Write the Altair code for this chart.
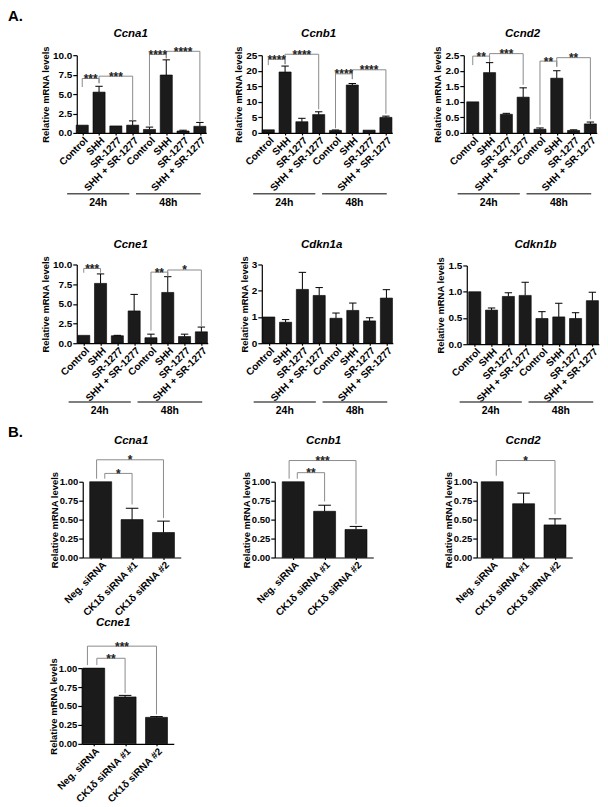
import altair as alt
import pandas as pd

FONT = "Liberation Sans"

# ---------------- data ----------------
a_cats = ["Control", "SHH", "SR-1277", "SHH + SR-1277", "Control", "SHH", "SR-1277", "SHH + SR-1277"]
b_cats = ["Neg. siRNA", "CK1\u03b4 siRNA #1", "CK1\u03b4 siRNA #2"]
hour_labels = ["24h", "48h"]
hour_start = [-0.9, 3.2]
hour_end = [2.8, 7.05]

ccna1_mean = [1.0, 5.25, 0.9, 1.0, 0.45, 7.45, 0.25, 0.85]
ccna1_sem = [0, 0.75, 0, 0.55, 0.3, 1.95, 0.1, 0.5]
ccnb1_mean = [1.0, 19.6, 3.6, 5.9, 0.8, 15.4, 0.9, 5.0]
ccnb1_sem = [0, 1.9, 1.1, 0.9, 0.15, 0.5, 0, 0.4]
ccnd2_mean = [1.0, 1.94, 0.6, 1.15, 0.12, 1.76, 0.08, 0.29]
ccnd2_sem = [0, 0.32, 0.03, 0.3, 0.04, 0.24, 0.02, 0.06]
ccne1_mean = [1.0, 7.6, 0.95, 4.1, 0.7, 6.45, 0.85, 1.45]
ccne1_sem = [0, 1.2, 0.05, 2.1, 0.45, 2.0, 0.3, 0.6]
cdkn1a_mean = [1.0, 0.8, 2.05, 1.82, 0.95, 1.25, 0.85, 1.72]
cdkn1a_sem = [0, 0.1, 0.65, 0.3, 0.2, 0.28, 0.12, 0.32]
cdkn1b_mean = [1.0, 0.65, 0.91, 0.93, 0.49, 0.52, 0.49, 0.83]
cdkn1b_sem = [0, 0.04, 0.07, 0.25, 0.13, 0.26, 0.11, 0.16]

b_ccna1_mean = [1.0, 0.5, 0.33]
b_ccna1_sem = [0, 0.15, 0.15]
b_ccnb1_mean = [1.0, 0.61, 0.37]
b_ccnb1_sem = [0, 0.08, 0.04]
b_ccnd2_mean = [1.0, 0.71, 0.43]
b_ccnd2_sem = [0, 0.14, 0.08]
b_ccne1_mean = [1.0, 0.62, 0.35]
b_ccne1_sem = [0, 0.02, 0.01]

# brackets: (x from, x to, top, left leg end, right leg end, stars)
ccna1_br = [(0, 1, 7.0, 5.9, 6.4, "***"), (1, 3, 7.3, 6.4, 1.6, "***"),
            (4, 5, 10.1, 0.95, 9.6, "****"), (5, 7, 10.5, 9.6, 1.5, "****")]
ccnb1_br = [(0, 1, 23.7, 21.8, 22.1, "****"), (1, 3, 25.3, 22.1, 7.6, "****"),
            (4, 5, 19.0, 1.5, 17.3, "****"), (5, 7, 20.3, 17.3, 6.2, "****")]
ccnd2_br = [(0, 1, 2.47, 2.18, 2.29, "**"), (1, 3, 2.55, 2.29, 1.55, "***"),
            (4, 5, 2.31, 0.26, 2.13, "**"), (5, 7, 2.42, 2.13, 0.44, "**")]
ccne1_br = [(0, 1, 9.5, 8.95, 8.95, "***"), (4, 5, 9.03, 1.6, 8.5, "**"),
            (5, 7, 9.3, 8.5, 2.1, "*")]
b_ccna1_br = [(0.13, 1, 1.11, 1.04, 0.70, "*"), (-0.13, 2, 1.29, 1.04, 0.52, "*")]
b_ccnb1_br = [(0.13, 1, 1.12, 1.04, 0.74, "**"), (-0.13, 2, 1.28, 1.04, 0.44, "***")]
b_ccnd2_br = [(0.13, 2, 1.28, 1.08, 0.57, "*")]
b_ccne1_br = [(0.10, 1, 1.13, 1.04, 0.67, "**"), (-0.2, 2, 1.29, 1.04, 0.39, "***")]

# ---------------- layout (page pixels) ----------------
W = 592 / 3
H = 195


def geo(cell, axis_x, first_x, top, bottom, step, right_pad, title_xy, line=None):
    return dict(cell=cell, axis_x=axis_x, first_x=first_x, top=top, bottom=bottom,
                step=step, right_pad=right_pad, title=title_xy, line=line)


def panel(title, cats, mean, sem, brackets, g, ydom, yticks, yfmt, half, cap,
          groups=False, letter=None, ylab=10, tpad=2):
    row, col = g["cell"]
    ox = 8 + col * W
    oy = 8 + row * H
    step = g["step"]
    x0 = g["axis_x"] - ox
    d0 = -(g["first_x"] - g["axis_x"]) / step
    n = len(cats)
    d1 = n - 1 + g["right_pad"]
    xr = [x0, x0 + (d1 - d0) * step]
    yt = g["top"] - oy
    yb = g["bottom"] - oy
    xs = alt.Scale(domain=[d0, d1], range=xr, nice=False, zero=False)
    ys = alt.Scale(domain=ydom, range=[yb, yt], nice=False, zero=False)

    df = pd.DataFrame({"pos": list(range(n)), "mean": mean, "sem": sem})
    df["lo"] = df["pos"] - half
    df["hi"] = df["pos"] + half
    df["base"] = 0.0
    df["up"] = df["mean"] + df["sem"]
    df["clo"] = df["pos"] - cap
    df["chi"] = df["pos"] + cap
    err = df[df["sem"] > 0]

    label_expr = "[" + ",".join("'%s'" % c for c in cats) + "][datum.value]"
    xaxis = alt.Axis(values=list(range(n)), labelExpr=label_expr, labelAngle=315,
                     title=None, tickSize=2, labelPadding=0, offset=-(H - yb),
                     labelFontSize=10, labelFlush=False, labelOverlap=False)
    yaxis = alt.Axis(values=yticks, format=yfmt, title="Relative mRNA levels",
                     offset=-x0, tickSize=4, labelPadding=1, titlePadding=tpad,
                     labelFontSize=ylab, labelFlush=False, labelOverlap=False)

    def X(f):
        return alt.X(f, scale=xs, axis=xaxis)

    def Y(f):
        return alt.Y(f, scale=ys, axis=yaxis)

    bars = alt.Chart(df).mark_bar(color="#1b1b1b", stroke="black", strokeWidth=0.6).encode(
        x=X("lo:Q"), x2="hi:Q", y=Y("base:Q"), y2="mean:Q")
    stems = alt.Chart(err).mark_rule(color="black", strokeWidth=1).encode(
        x=X("pos:Q"), y=Y("mean:Q"), y2="up:Q")
    caps = alt.Chart(err).mark_rule(color="black", strokeWidth=1).encode(
        x=X("clo:Q"), x2="chi:Q", y=Y("up:Q"))

    segs = []
    stars = []
    for (a, b, top, yl, yr, lab) in brackets:
        segs.append(dict(xa=a, xb=a, ya=yl, yb=top))
        segs.append(dict(xa=a, xb=b, ya=top, yb=top))
        segs.append(dict(xa=b, xb=b, ya=top, yb=yr))
        stars.append(dict(xm=(a + b) / 2, top=top, lab=lab))
    layers = [bars, stems, caps]
    if segs:
        layers.append(alt.Chart(pd.DataFrame(segs)).mark_rule(color="#8c8c8c", strokeWidth=1).encode(
            x=X("xa:Q"), x2="xb:Q", y=Y("ya:Q"), y2="yb:Q"))
        layers.append(alt.Chart(pd.DataFrame(stars)).mark_text(
            font=FONT, fontSize=12, fontWeight="bold", color="#222", baseline="alphabetic", dy=4.5).encode(
            x=X("xm:Q"), y=Y("top:Q"), text="lab:N"))
    if groups:
        gdf = pd.DataFrame({"g0": hour_start, "g1": hour_end, "lab": hour_labels})
        gdf["gc"] = (gdf["g0"] + gdf["g1"]) / 2
        ly = g["line"] - oy
        layers.append(alt.Chart(gdf).mark_rule(color="#555", strokeWidth=1.6).encode(
            x=X("g0:Q"), x2="g1:Q", y=alt.value(ly)))
        layers.append(alt.Chart(gdf).mark_text(
            font=FONT, fontSize=10.5, fontWeight="bold", color="black", baseline="alphabetic").encode(
            x=X("gc:Q"), y=alt.value(ly + 12), text="lab:N"))
    tx, ty = g["title"]
    layers.append(alt.Chart(pd.DataFrame({"t": [title]})).mark_text(
        font=FONT, fontSize=11.5, fontWeight="bold", fontStyle="italic", color="black",
        baseline="alphabetic").encode(x=alt.value(tx - ox), y=alt.value(ty - oy), text="t:N"))
    if letter:
        lab, ly = letter
        layers.append(alt.Chart(pd.DataFrame({"t": [lab]})).mark_text(
            font=FONT, fontSize=15, fontWeight="bold", color="black", align="left",
            baseline="alphabetic").encode(x=alt.value(0), y=alt.value(ly - oy), text="t:N"))
    return alt.layer(*layers).properties(width=W, height=H)


SA = 16.86
SB = 31.5
a_ticks10 = [0, 2.5, 5, 7.5, 10]
b_ticks = [0, 0.25, 0.5, 0.75, 1.0]
BK = dict(ylab=9.5, tpad=0)

panels = [
    panel("Ccna1", a_cats, ccna1_mean, ccna1_sem, ccna1_br,
          geo((0, 0), 77, 82.5, 54, 132, SA, 0.38, (131, 36), 193),
          [0, 10], a_ticks10, ".1f", 0.36, 0.22, groups=True, letter=("A.", 20)),
    panel("Ccnb1", a_cats, ccnb1_mean, ccnb1_sem, ccnb1_br,
          geo((0, 1), 262, 268.5, 54, 132, SA, 0.38, (319, 36), 193),
          [0, 25], [0, 5, 10, 15, 20, 25], "d", 0.36, 0.22, groups=True),
    panel("Ccnd2", a_cats, ccnd2_mean, ccnd2_sem, ccnd2_br,
          geo((0, 2), 464, 473, 54, 132, SA, 0.38, (523, 36), 193),
          [0, 2.5], [0, 0.5, 1.0, 1.5, 2.0, 2.5], ".1f", 0.36, 0.22, groups=True),
    panel("Ccne1", a_cats, ccne1_mean, ccne1_sem, ccne1_br,
          geo((1, 0), 77, 84, 264, 343, SA, 0.38, (131, 247), 402),
          [0, 10], a_ticks10, ".1f", 0.36, 0.22, groups=True),
    panel("Cdkn1a", a_cats, cdkn1a_mean, cdkn1a_sem, [],
          geo((1, 1), 262, 269, 264, 343, SA, 0.38, (322, 247), 402),
          [0, 3], [0, 1, 2, 3], "d", 0.36, 0.22, groups=True),
    panel("Cdkn1b", a_cats, cdkn1b_mean, cdkn1b_sem, [],
          geo((1, 2), 467, 475, 265, 344, SA, 0.38, (536, 247), 402),
          [0, 1.5], [0, 0.5, 1.0, 1.5], ".1f", 0.36, 0.22, groups=True),
    panel("Ccna1", b_cats, b_ccna1_mean, b_ccna1_sem, b_ccna1_br,
          geo((2, 0), 83, 101, 482, 558, SB, 0.55, (131.5, 444)),
          [0, 1], b_ticks, ".2f", 0.35, 0.2, letter=("B.", 437), **BK),
    panel("Ccnb1", b_cats, b_ccnb1_mean, b_ccnb1_sem, b_ccnb1_br,
          geo((2, 1), 275, 293.5, 482, 558, SB, 0.55, (324, 444)),
          [0, 1], b_ticks, ".2f", 0.35, 0.2, **BK),
    panel("Ccnd2", b_cats, b_ccnd2_mean, b_ccnd2_sem, b_ccnd2_br,
          geo((2, 2), 477, 492.5, 482, 558, SB, 0.55, (523.5, 444)),
          [0, 1], b_ticks, ".2f", 0.35, 0.2, **BK),
    panel("Ccne1", b_cats, b_ccne1_mean, b_ccne1_sem, b_ccne1_br,
          geo((3, 0), 82, 94, 669, 745, SB, 0.55, (113.5, 627)),
          [0, 1], b_ticks, ".2f", 0.35, 0.2, **BK),
]

chart = alt.concat(*panels, columns=3, spacing=0, bounds="flush").properties(
    padding=0
).configure_axis(
    labelFont=FONT, labelFontSize=10, labelFontWeight="bold", labelColor="black",
    titleFont=FONT, titleFontSize=9.5, titleFontWeight="bold", titleColor="black",
    domainColor="black", tickColor="black", domainWidth=1.2, tickWidth=1.2, grid=False
).configure_view(stroke=None)

chart.save("out.html", embed_options={"renderer": "svg", "actions": False})
